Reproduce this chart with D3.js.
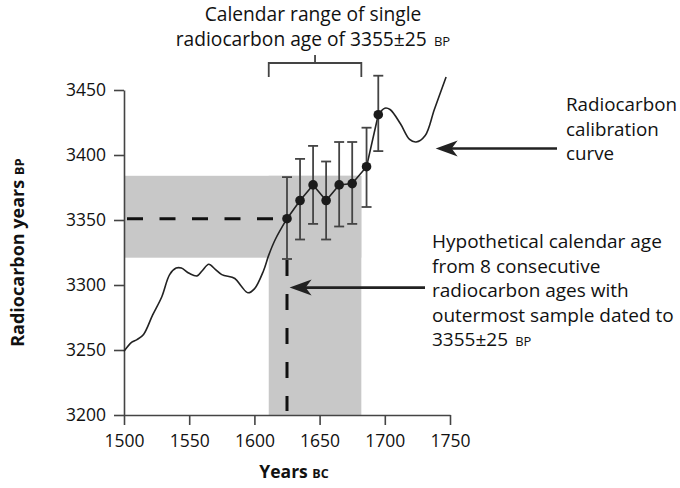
<!DOCTYPE html>
<html>
<head>
<meta charset="utf-8">
<script src="https://cdn.jsdelivr.net/npm/d3@7"></script>
<style>
  body { margin: 0; background: #fff; }
  svg { font-family: "Open Sans", "Noto Sans", sans-serif; }
</style>
</head>
<body>
<div id="chart"></div>
<script>
// calibration curve
const curveYears = [1500, 1506, 1510, 1515, 1522, 1529, 1535, 1540, 1544, 1550, 1556, 1560, 1565, 1570, 1575, 1585, 1590, 1595, 1600, 1607, 1611, 1616];
const curveValues = [3249, 3256, 3258, 3262, 3277, 3291, 3308, 3313, 3313, 3309, 3307, 3311, 3316, 3312, 3308, 3305, 3299, 3294, 3297, 3311, 3323, 3335];
const curveYearsLate = [1700, 1704, 1712, 1719, 1724, 1731, 1738, 1747];
const curveValuesLate = [3436, 3435, 3424, 3412, 3410, 3415, 3435, 3460];

// 8 consecutive radiocarbon ages
const sampleYears = [1625, 1635, 1645, 1655, 1665, 1675, 1686, 1695];
const sampleValues = [3351, 3365, 3377, 3365, 3377, 3378, 3391, 3431];
const sampleLow = [3320, 3335, 3347, 3335, 3345, 3347, 3360, 3403];
const sampleHigh = [3383, 3397, 3407, 3395, 3410, 3410, 3421, 3461];

// calendar range of the single age 3355±25
const rangeYears = [1611, 1682];
const rangeValues = [3321, 3384];

const xTicks = [1500, 1550, 1600, 1650, 1700, 1750];
const yTicks = [3200, 3250, 3300, 3350, 3400, 3450];

const W = 680, H = 488;
const margin = { top: 90, right: 230, bottom: 73, left: 124 };

const svg = d3.select('#chart')
  .append('svg')
  .attr('width', W)
  .attr('height', H);

const x = d3.scaleLinear()
  .domain([1500, 1750])
  .range([margin.left, W - margin.right]);

const y = d3.scaleLinear()
  .domain([3200, 3450])
  .range([H - margin.bottom, margin.top]);

// grey ranges (horizontal + vertical band)
const band = svg.append('g').attr('fill', '#c8c8c8');
band.append('rect')
  .attr('x', x(1500))
  .attr('y', y(rangeValues[1]))
  .attr('width', x(rangeYears[1]) - x(1500))
  .attr('height', y(rangeValues[0]) - y(rangeValues[1]));
band.append('rect')
  .attr('x', x(rangeYears[0]))
  .attr('y', y(rangeValues[1]))
  .attr('width', x(rangeYears[1]) - x(rangeYears[0]))
  .attr('height', y(3200) - y(rangeValues[1]));

// dashed guide lines to outermost sample
svg.append('line')
  .attr('x1', x(1500) + 3).attr('x2', x(sampleYears[0]))
  .attr('y1', y(sampleValues[0])).attr('y2', y(sampleValues[0]))
  .attr('stroke', '#111').attr('stroke-width', 3)
  .attr('stroke-dasharray', '16,16.5');
svg.append('line')
  .attr('x1', x(sampleYears[0])).attr('x2', x(sampleYears[0]))
  .attr('y1', y(sampleLow[0]) + 1).attr('y2', y(3200) - 4)
  .attr('stroke', '#111').attr('stroke-width', 3)
  .attr('stroke-dasharray', '16,18');

// axes
const xAxis = d3.axisBottom(x).tickValues(xTicks).tickSize(10).tickSizeOuter(0).tickFormat(d3.format('d'));
const yAxis = d3.axisLeft(y).tickValues(yTicks).tickSize(10).tickSizeOuter(0).tickFormat(d3.format('d'));

const gx = svg.append('g')
  .attr('transform', `translate(0,${y(3200)})`)
  .call(xAxis);
const gy = svg.append('g')
  .attr('transform', `translate(${x(1500)},0)`)
  .call(yAxis);

[gx, gy].forEach(g => {
  g.selectAll('path, line').attr('stroke', '#444').attr('stroke-width', 1.6);
  g.selectAll('text').attr('fill', '#111').attr('font-size', 17.5).attr('font-family', '"Open Sans", sans-serif');
});
gx.selectAll('text').attr('dy', '1.1em');
gy.selectAll('text').attr('x', -18);

// calibration curve
const line = d3.line().x(d => x(d[0])).y(d => y(d[1]));
const early = curveYears.map((d, i) => [d, curveValues[i]]);
const samples = sampleYears.map((d, i) => [d, sampleValues[i]]);
const late = curveYearsLate.map((d, i) => [d, curveValuesLate[i]]);

svg.append('path')
  .attr('d', line.curve(d3.curveCatmullRom)(early.concat([samples[0]])))
  .attr('fill', 'none').attr('stroke', '#222').attr('stroke-width', 1.6);
svg.append('path')
  .attr('d', line.curve(d3.curveLinear)(samples))
  .attr('fill', 'none').attr('stroke', '#222').attr('stroke-width', 1.6);
svg.append('path')
  .attr('d', line.curve(d3.curveCatmullRom)([samples[samples.length - 1]].concat(late)))
  .attr('fill', 'none').attr('stroke', '#222').attr('stroke-width', 1.6);

// error bars
const bars = svg.append('g').attr('stroke', '#444').attr('stroke-width', 1.8);
sampleYears.forEach((yr, i) => {
  const cx = x(yr);
  bars.append('line').attr('x1', cx).attr('x2', cx).attr('y1', y(sampleLow[i])).attr('y2', y(sampleHigh[i]));
  bars.append('line').attr('x1', cx - 5).attr('x2', cx + 5).attr('y1', y(sampleLow[i])).attr('y2', y(sampleLow[i]));
  bars.append('line').attr('x1', cx - 5).attr('x2', cx + 5).attr('y1', y(sampleHigh[i])).attr('y2', y(sampleHigh[i]));
});

svg.selectAll('circle.sample')
  .data(samples)
  .enter()
  .append('circle')
  .attr('class', 'sample')
  .attr('cx', d => x(d[0]))
  .attr('cy', d => y(d[1]))
  .attr('r', 4.8)
  .attr('fill', '#1b1b1b');

// bracket over the calendar range
const bx0 = x(rangeYears[0]), bx1 = x(rangeYears[1]), by = 63;
svg.append('path')
  .attr('d', `M${bx0},${by + 14}V${by}H${bx1}V${by + 14}M${(bx0 + bx1) / 2},${by}V${by - 8}`)
  .attr('fill', 'none').attr('stroke', '#444').attr('stroke-width', 1.8);

// arrows
function arrow(tipX, tipY, tailX) {
  const g = svg.append('g');
  g.append('line')
    .attr('x1', tipX + 14).attr('x2', tailX)
    .attr('y1', tipY).attr('y2', tipY)
    .attr('stroke', '#222').attr('stroke-width', 2.6);
  g.append('path')
    .attr('d', `M${tipX},${tipY}L${tipX + 22},${tipY - 8}L${tipX + 16},${tipY}L${tipX + 22},${tipY + 8}Z`)
    .attr('fill', '#222');
}
arrow(x(1739), y(3405), 557);
arrow(x(1627), y(3298), 425);

// one text per line, optional small caps suffix
function textBlock(lines, tx, ty, size, anchor, lh) {
  lines.forEach((l, i) => {
    const t = svg.append('text')
      .attr('x', tx).attr('y', ty + i * lh)
      .attr('font-size', size).attr('fill', '#111')
      .attr('text-anchor', anchor);
    t.append('tspan').text(l[0]);
    if (l[1]) t.append('tspan').attr('font-size', size * 0.68).text('\u2009' + l[1]);
  });
}

textBlock([['Calendar range of single'], ['radiocarbon age of 3355±25 ', 'BP']], 313, 21, 19.2, 'middle', 24.5);
textBlock([['Radiocarbon'], ['calibration'], ['curve']], 566, 111, 18.8, 'start', 24.5);
textBlock([['Hypothetical calendar age'], ['from 8 consecutive'], ['radiocarbon ages with'], ['outermost sample dated to'], ['3355±25 ', 'BP']], 432, 248, 19, 'start', 24.5);

// axis titles
svg.append('text')
  .attr('x', (x(1500) + x(1750)) / 2 + 7).attr('y', 478)
  .attr('text-anchor', 'middle').attr('font-weight', 'bold').attr('font-size', 17.5).attr('fill', '#111')
  .call(t => { t.append('tspan').text('Years '); t.append('tspan').attr('font-size', 12.5).text('BC'); });

svg.append('text')
  .attr('transform', `translate(24,${(y(3200) + y(3450)) / 2 + 0}) rotate(-90)`)
  .attr('text-anchor', 'middle').attr('font-weight', 'bold').attr('font-size', 18).attr('fill', '#111')
  .call(t => { t.append('tspan').text('Radiocarbon years '); t.append('tspan').attr('font-size', 13).text('BP'); });
</script>
</body>
</html>
